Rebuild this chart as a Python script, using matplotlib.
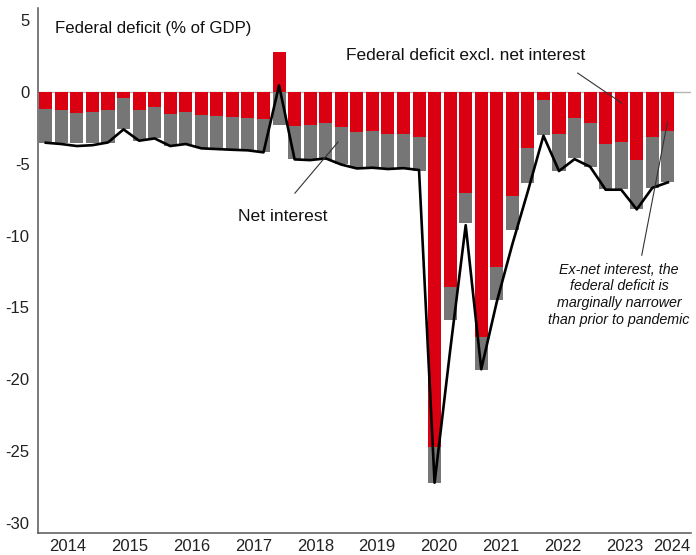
import numpy as np
import matplotlib
matplotlib.use("Agg")
import matplotlib.pyplot as plt
from matplotlib import font_manager

# 季度数据：2014Q1 - 2024Q1，单位 % of GDP
quarters = [f"{y}Q{q}" for y in range(2014, 2025) for q in range(1, 5)][:41]

# 不含净利息的联邦赤字（红色）
deficit_ex_interest = [
    -1.18, -1.28, -1.49, -1.42, -1.28, -0.44, -1.23, -1.05,
    -1.56, -1.37, -1.62, -1.70, -1.76, -1.81, -1.88, 2.81,
    -2.35, -2.32, -2.14, -2.44, -2.76, -2.70, -2.91, -2.95,
    -3.12, -24.70, -13.60, -7.00, -17.05, -12.17, -7.22, -3.88,
    -0.56, -2.93, -1.81, -2.16, -3.62, -3.48, -4.74, -3.14,
    -2.69,
]

# 净利息（灰色）
net_interest = [
    -2.35, -2.25, -2.06, -2.13, -2.25, -2.14, -2.16, -2.18,
    -2.22, -2.33, -2.26, -2.25, -2.24, -2.25, -2.32, -2.28,
    -2.34, -2.42, -2.56, -2.56, -2.51, -2.57, -2.36, -2.32,
    -2.36, -2.50, -2.24, -2.15, -2.27, -2.30, -2.40, -2.44,
    -2.46, -2.57, -2.81, -3.04, -3.14, -3.28, -3.43, -3.53,
    -3.60,
]

# 联邦赤字总额（黑线）
federal_deficit = [
    -3.53, -3.62, -3.76, -3.70, -3.51, -2.60, -3.39, -3.23,
    -3.76, -3.62, -3.92, -3.97, -4.02, -4.06, -4.20, 0.46,
    -4.69, -4.74, -4.62, -5.05, -5.32, -5.27, -5.36, -5.30,
    -5.43, -27.20, -18.00, -9.27, -19.30, -14.60, -10.60, -6.90,
    -3.04, -5.50, -4.67, -5.20, -6.80, -6.80, -8.17, -6.67,
    -6.29,
]

years = ["2014", "2015", "2016", "2017", "2018", "2019",
         "2020", "2021", "2022", "2023", "2024"]
y_ticks = [5, 0, -5, -10, -15, -20, -25, -30]

RED = "#DB0011"
GREY = "#767676"

names = {f.name for f in font_manager.fontManager.ttflist}
if "Liberation Sans Narrow" in names:
    TICK_FONT, TICK_SIZE = "Liberation Sans Narrow", 14
else:
    TICK_FONT, TICK_SIZE = "Liberation Sans", 12
TEXT_FONT = "Liberation Sans"

plt.rcParams["axes.unicode_minus"] = False

fig = plt.figure(figsize=(6.96, 5.55), dpi=100)
ax = fig.add_axes([0.0546, 0.0396, 0.9385, 0.946])

x = np.arange(len(quarters))
red = np.array(deficit_ex_interest)
grey = np.array(net_interest)
grey_base = np.minimum(red, 0)

ax.axhline(0, color="#b4b4b4", lw=1.0, zorder=1)
ax.bar(x, red, width=0.84, color=RED, zorder=2)
ax.bar(x, grey, bottom=grey_base, width=0.84, color=GREY, zorder=2)
ax.plot(x, federal_deficit, color="black", lw=1.9, zorder=3)

ax.set_xlim(-0.5, 41.5)
ax.set_ylim(-30.7, 5.85)

# 年份标签大致放在每年四个季度中间，2024 靠右
year_pos = [1.43 + 3.975 * i for i in range(len(years) - 1)] + [40.25]
ax.set_xticks(year_pos)
ax.set_xticklabels(years)
ax.set_yticks(y_ticks)
ax.set_yticklabels([str(v) for v in y_ticks])
ax.tick_params(length=0, colors="#222222")
ax.tick_params(axis="x", pad=4)
ax.tick_params(axis="y", pad=6)
for lab in ax.get_xticklabels() + ax.get_yticklabels():
    lab.set_fontfamily(TICK_FONT)
    lab.set_fontsize(TICK_SIZE)

for side in ["top", "right"]:
    ax.spines[side].set_visible(False)
for side in ["left", "bottom"]:
    ax.spines[side].set_color("#555555")
    ax.spines[side].set_linewidth(1.1)

ax.text(0.026, 0.961, "Federal deficit (% of GDP)", transform=ax.transAxes,
        ha="left", va="center", fontsize=12.1, family=TEXT_FONT, color="#111111")

# 标注
ax.text(19.3, 2.51, "Federal deficit excl. net interest", ha="left", va="center",
        fontsize=12.4, family=TEXT_FONT, color="#111111", zorder=4)
ax.plot([34.2, 37.04], [1.32, -0.77], color="#333333", lw=0.8, zorder=4)

ax.text(12.36, -8.69, "Net interest", ha="left", va="center",
        fontsize=12.6, family=TEXT_FONT, color="#111111", zorder=4)
ax.plot([16.02, 18.79], [-7.04, -3.48], color="#333333", lw=0.8, zorder=4)

ax.text(36.86, -14.11,
        "Ex-net interest, the\nfederal deficit is\nmarginally narrower\nthan prior to pandemic",
        ha="center", va="center", multialignment="center", fontsize=10.3,
        style="italic", family=TEXT_FONT, color="#111111", linespacing=1.25, zorder=4)
ax.plot([39.97, 38.32], [-2.11, -11.36], color="#333333", lw=0.8, zorder=4)

fig.savefig("out.png", dpi=100)
